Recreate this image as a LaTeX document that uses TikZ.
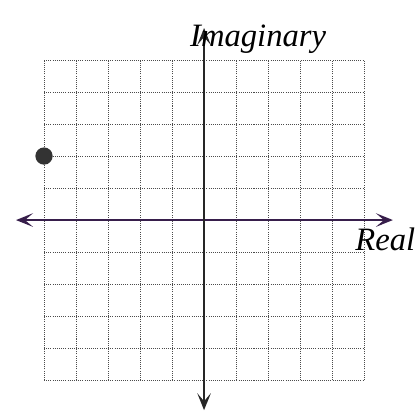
\documentclass[tikz,border=0pt]{standalone}
\usepackage{fontspec}
\setmainfont{Liberation Serif}
\usetikzlibrary{arrows.meta}

\definecolor{axispurple}{RGB}{55,30,75}

\begin{document}
\begin{tikzpicture}[x=1cm,y=1cm]
    \def\n{5}
    \tikzset{
      gridline/.style={gray!60!black, line width=0.9pt, densely dotted},
      axis/.style={line width=2pt, {Stealth[length=15pt,width=12pt,inset=7pt]}-{Stealth[length=15pt,width=12pt,inset=7pt]}},
      axislabel/.style={anchor=base west, inner sep=0pt, font=\fontsize{29}{30}\selectfont\itshape}
    }
    \useasboundingbox (-6.375,-5.97) rectangle (6.59,6.875);
    \draw[gridline] (-\n,-\n) grid (\n,\n);
    % axes
    \coordinate (west) at (-5.875,0);
    \coordinate (east) at (5.9,0);
    \coordinate (south) at (0,-5.94);
    \coordinate (north) at (0,6.0);
    \draw[axis, axispurple] (west) -- (east);
    \draw[axis, black!85] (south) -- (north);
    \node[axislabel] (imlabel) at (-0.44,5.41) {Imaginary};
    \node[axislabel] (relabel) at (4.72,-0.94) {Real};
    % the point
    \fill[black!80] (-5,2) circle (0.27);
  \end{tikzpicture}
\end{document}
